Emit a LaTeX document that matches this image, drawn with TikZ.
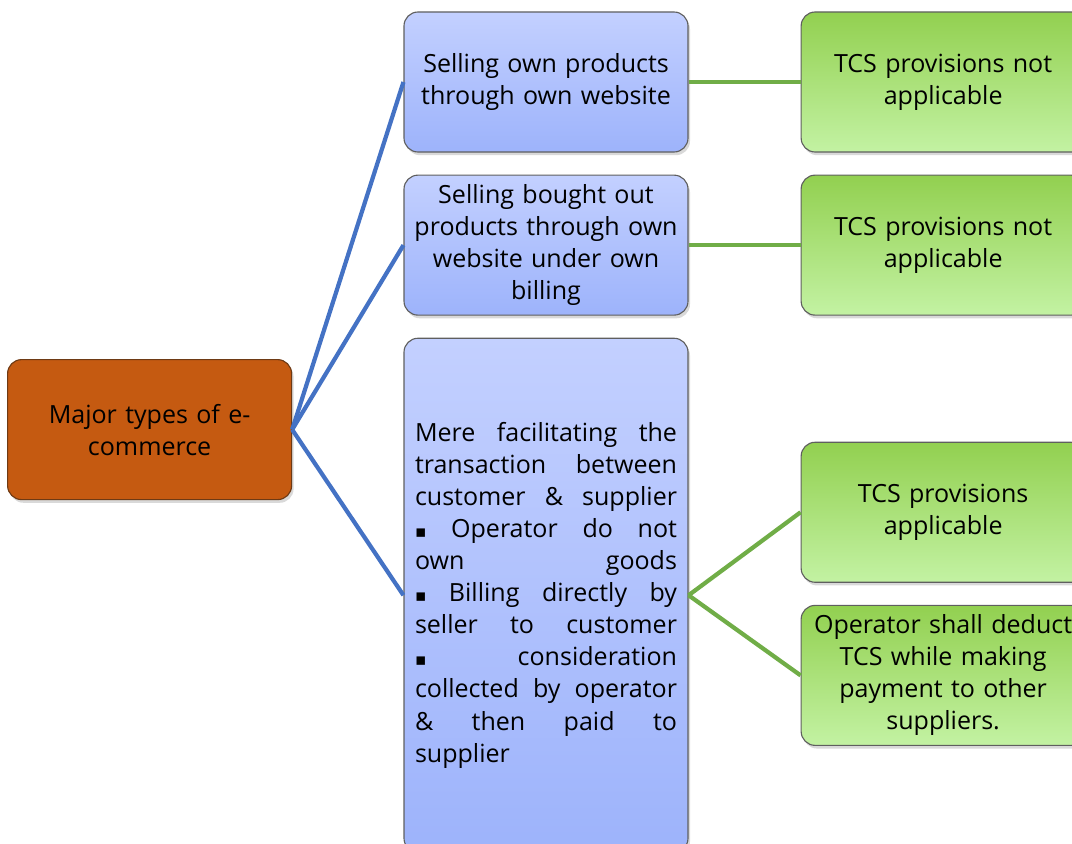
\documentclass[tikz,border=0pt]{standalone}
\usepackage{fontspec}
\setmainfont{Open Sans}
\newfontfamily\symfont{DejaVu Sans}
\usetikzlibrary{positioning, shadows}
\definecolor{rootfill}{HTML}{C55A11}
\definecolor{rootdraw}{HTML}{6E3A14}
\definecolor{bluetop}{HTML}{C3D0FF}
\definecolor{bluebot}{HTML}{9DB3FB}
\definecolor{greentop}{HTML}{92D050}
\definecolor{greenbot}{HTML}{C3F2A3}
\definecolor{blueline}{HTML}{4472C4}
\definecolor{greenline}{HTML}{70AD47}
\definecolor{edge}{HTML}{5F5F5F}
\tikzset{
  card/.style   ={draw=edge, line width=0.8pt, rounded corners=0.35cm,
                  minimum width=7.1cm, minimum height=3.5cm, text width=6.9cm,
                  align=center, inner sep=0pt,
                  font=\fontsize{17.8}{22.8}\selectfont,
                  drop shadow={opacity=0.3, shadow xshift=0.05cm, shadow yshift=-0.08cm}},
  rootbox/.style={card, fill=rootfill, draw=rootdraw},
  typebox/.style={card, top color=bluetop, bottom color=bluebot},
  tcsbox/.style ={card, top color=greentop, bottom color=greenbot},
  linkb/.style  ={line width=3pt, draw=blueline},
  linkg/.style  ={line width=3pt, draw=greenline}
}
\newcommand{\jline}[1]{\hbox to \hsize{#1}}
\newcommand{\sqb}{{\symfont\fontsize{12}{12}\selectfont\char"25AA}}

\begin{document}
\begin{tikzpicture}[node distance=0.55cm and 2.8cm]
  \useasboundingbox (0,0) rectangle (26.8,-21.075);

  \node[rootbox] (root) at (3.74,-10.74) {Major types of e-\\commerce};

  \node[typebox] (own) at (13.65,-2.05) {Selling own products\\through own website};
  \node[typebox, below=of own] (bought)
    {Selling bought out\\products through own\\website under own\\billing};
  \node[typebox, below=of bought, minimum height=12.85cm, text width=6.55cm,
        align=left] (mere) {%
    \jline{Mere\hfill facilitating\hfill the}
    \jline{transaction\hfill between}
    \jline{customer\hfill \&\hfill supplier}
    \jline{\sqb\hfill Operator\hfill do\hfill not}
    \jline{own\hfill goods}
    \jline{\sqb\hfill Billing\hfill directly\hfill by}
    \jline{seller\hfill to\hfill customer}
    \jline{\sqb\hfill consideration}
    \jline{collected\hfill by\hfill operator}
    \jline{\&\hfill then\hfill paid\hfill to}
    \jline{supplier\hfill}};

  \node[tcsbox, right=of own]    (notown)    {TCS provisions not\\applicable};
  \node[tcsbox, right=of bought] (notbought) {TCS provisions not\\applicable};
  \node[tcsbox, right=of mere, yshift=2.075cm] (appl) {TCS provisions\\applicable};
  \node[tcsbox, below=of appl] (deduct)
    {Operator shall deduct\\TCS while making\\payment to other\\suppliers.};

  \draw[linkb] (root.east) -- (own.west);
  \draw[linkb] (root.east) -- (bought.west);
  \draw[linkb] (root.east) -- (mere.west);
  \draw[linkg] (own.east) -- (notown.west);
  \draw[linkg] (bought.east) -- (notbought.west);
  \draw[linkg] (mere.east) -- (appl.west);
  \draw[linkg] (mere.east) -- (deduct.west);
\end{tikzpicture}
\end{document}
